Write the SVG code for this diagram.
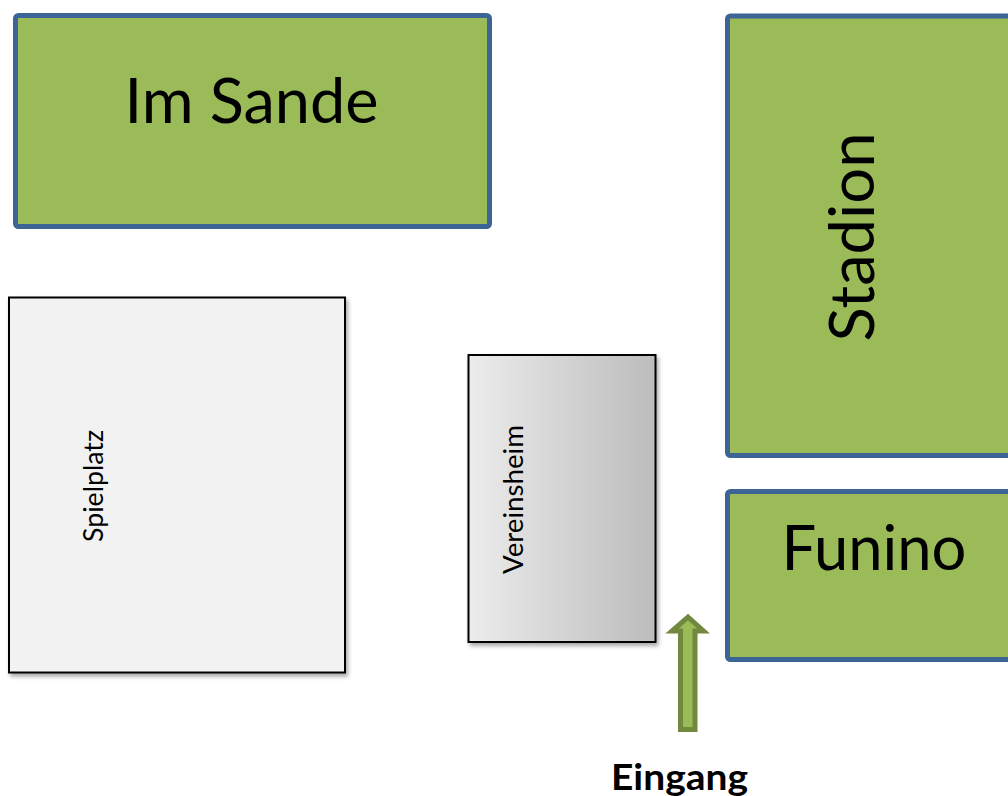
<svg xmlns="http://www.w3.org/2000/svg" width="1008" height="796" viewBox="0 0 1008 796">
  <defs>
    <linearGradient id="houseFill" x1="0" y1="0" x2="1" y2="0">
      <stop offset="0" stop-color="#ECECEC"/>
      <stop offset="1" stop-color="#BCBCBC"/>
    </linearGradient>
    <filter id="shadow" x="-10%" y="-10%" width="125%" height="125%">
      <feDropShadow dx="2" dy="3" stdDeviation="2" flood-color="#000" flood-opacity="0.35"/>
    </filter>
  </defs>
  <style>
    .field { fill: #9BBB59; stroke: #3C6495; stroke-width: 5; }
    .big { font-family: Lato, "Open Sans", sans-serif; font-size: 61px; fill: #000; }
    .small { font-family: Lato, "Open Sans", sans-serif; font-size: 27px; fill: #000; }
    .label { font-family: Lato, "Open Sans", sans-serif; font-size: 37px; font-weight: bold; fill: #000; }
  </style>
  <rect width="1008" height="796" fill="#FFFFFF"/>

  <g id="im-sande">
    <rect class="field" x="15.5" y="15.5" width="474" height="211" rx="3"/>
    <text class="big" x="251.5" y="123" text-anchor="middle" textLength="254" lengthAdjust="spacingAndGlyphs">Im Sande</text>
  </g>

  <g id="stadion">
    <rect class="field" x="727.5" y="16" width="300" height="439.5" rx="3"/>
    <text class="big" transform="translate(874 237) rotate(-90)" x="0" y="0" text-anchor="middle" textLength="209" lengthAdjust="spacingAndGlyphs">Stadion</text>
  </g>

  <g id="funino">
    <rect class="field" x="727.5" y="491.5" width="300" height="168" rx="3"/>
    <text class="big" x="874" y="570" text-anchor="middle" textLength="185" lengthAdjust="spacingAndGlyphs">Funino</text>
  </g>

  <g id="spielplatz">
    <rect x="9" y="297.5" width="336" height="375" fill="#F2F2F2" stroke="#000" stroke-width="2" filter="url(#shadow)"/>
    <text class="small" transform="translate(103 486) rotate(-90)" x="0" y="0" text-anchor="middle" textLength="112" lengthAdjust="spacingAndGlyphs">Spielplatz</text>
  </g>

  <g id="vereinsheim">
    <rect x="468.5" y="355" width="187" height="287" fill="url(#houseFill)" stroke="#000" stroke-width="2" filter="url(#shadow)"/>
    <text class="small" transform="translate(523 499.5) rotate(-90)" x="0" y="0" text-anchor="middle" textLength="149" lengthAdjust="spacingAndGlyphs">Vereinsheim</text>
  </g>

  <g id="connectors">
    <path d="M688 617 L703.5 631 L695 631 L695 729.5 L680.5 729.5 L680.5 631 L672 631 Z" fill="#9BBB59" stroke="#71893F" stroke-width="5" stroke-linejoin="miter"/>
  </g>

  <g id="eingang">
    <text class="label" x="679.5" y="790" text-anchor="middle" textLength="137" lengthAdjust="spacingAndGlyphs">Eingang</text>
  </g>
</svg>
